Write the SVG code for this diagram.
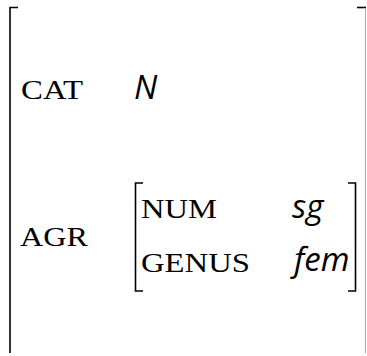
<svg xmlns="http://www.w3.org/2000/svg" width="367" height="356" viewBox="0 0 367 356">
<style>
.br{fill:none;stroke:#000;stroke-width:1.6}
.feat{font-family:"Liberation Serif",serif;font-size:27.5px;fill:#000}
.val{font-family:"Open Sans","Noto Sans",sans-serif;font-style:italic;font-size:33px;fill:#000}
</style>
<rect width="367" height="356" fill="#fff"/>
<g id="outer">
<path class="br" d="M18,7.5 H10 V353"/>
<path class="br" d="M357,7.5 H366"/>
<line x1="365.5" y1="8" x2="365.5" y2="353" stroke="#aaa" stroke-width="1"/>
<text class="feat" x="21" y="99" textLength="62" lengthAdjust="spacingAndGlyphs">CAT</text>
<text class="val" x="134" y="99">N</text>
<text class="feat" x="20" y="246" textLength="68" lengthAdjust="spacingAndGlyphs">AGR</text>
</g>
<g id="inner">
<path class="br" d="M143,183 H135.5 V291 H143"/>
<path class="br" d="M348,183 H355.5 V291 H348"/>
<text class="feat" x="141" y="218" textLength="76" lengthAdjust="spacingAndGlyphs">NUM</text>
<text class="feat" x="141" y="272" textLength="109" lengthAdjust="spacingAndGlyphs">GENUS</text>
<text class="val" x="292" y="218">sg</text>
<text class="val" x="294" y="271">fem</text>
</g>
</svg>
